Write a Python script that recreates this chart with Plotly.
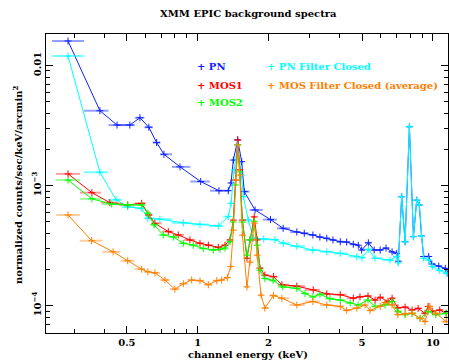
import math
import plotly.graph_objects as go

# ---------------- data (keV, counts/sec/keV/arcmin^2) ----------------
pn_e = [0.281, 0.384, 0.454, 0.515, 0.568, 0.620, 0.669, 0.719, 0.841, 1.03, 1.232, 1.35,
        1.386, 1.418, 1.480, 1.539, 1.578, 1.754, 2.04, 2.31, 2.64, 2.84, 3.09, 3.31, 3.54,
        3.76, 4.04, 4.30, 4.59, 4.82, 4.98, 5.32, 5.63, 5.97, 6.32, 6.71, 7.02, 7.13, 7.37,
        7.62, 7.95, 8.27, 8.54, 8.76, 8.95, 9.14, 9.6, 9.9, 10.6, 11.3, 11.6]
pn_v = [0.0160, 0.00420, 0.00319, 0.00319, 0.00367, 0.00306, 0.00228, 0.00182, 0.00143,
        0.00108, 0.000905, 0.000905, 0.00105, 0.00163, 0.00240, 0.00158, 0.00089, 0.000625,
        0.00052, 0.00044, 0.00041, 0.00040, 0.000387, 0.000372, 0.000363, 0.000352, 0.000340,
        0.000338, 0.000324, 0.000318, 0.000290, 0.000333, 0.000290, 0.000290, 0.000301,
        0.000280, 0.000272, 0.000234, 0.000806, 0.000340, 0.00309, 0.000375, 0.000755,
        0.000688, 0.00038, 0.000256, 0.000256, 0.000222, 0.000213, 0.000204, 0.000186]

pnfc_e = [0.281, 0.384, 0.45, 0.504, 0.578, 0.614, 0.691, 0.869, 1.023, 1.224, 1.35, 1.386,
          1.43, 1.480, 1.535, 1.564, 1.642, 1.724, 1.91, 2.13, 2.31, 2.64, 3.09, 3.54, 4.04,
          4.75, 5.0, 5.32, 5.67, 6.58, 7.02, 7.13, 7.37, 7.62, 7.95, 8.27, 8.54, 8.76, 8.95,
          9.14, 9.6, 9.95, 10.7, 11.4]
pnfc_v = [0.0120, 0.00129, 0.00076, 0.000664, 0.000645, 0.000533, 0.000524, 0.000489,
          0.000474, 0.000460, 0.000551, 0.000710, 0.00135, 0.00218, 0.00122, 0.000808,
          0.000516, 0.000364, 0.000358, 0.000354, 0.000330, 0.000312, 0.000290, 0.000281,
          0.000272, 0.000256, 0.000250, 0.000294, 0.000248, 0.000239, 0.000256, 0.000227,
          0.000806, 0.000340, 0.00309, 0.000375, 0.000755, 0.000688, 0.00038, 0.000248,
          0.000239, 0.000211, 0.000196, 0.000186]

mos1_e = [0.281, 0.355, 0.423, 0.504, 0.578, 0.62, 0.658, 0.75, 0.827, 0.927, 1.023, 1.11,
          1.224, 1.307, 1.372, 1.418, 1.45, 1.48, 1.51, 1.55, 1.62, 1.67, 1.74, 1.79, 1.84,
          1.93, 2.1, 2.28, 2.64, 3.10, 3.54, 4.04, 4.59, 4.90, 5.30, 5.68, 5.97, 6.45, 6.71,
          7.10, 7.62, 8.16, 8.66, 9.26, 9.55, 9.95, 10.7, 11.4]
mos1_v = [0.00125, 0.000872, 0.000720, 0.000689, 0.000711, 0.000568, 0.000484, 0.000413,
          0.000387, 0.000352, 0.000330, 0.000318, 0.000305, 0.000318, 0.000352, 0.000515,
          0.00111, 0.00240, 0.00135, 0.000515, 0.000248, 0.000352, 0.000548, 0.000352,
          0.000205, 0.000179, 0.000174, 0.000149, 0.000145, 0.000135, 0.000125, 0.000123,
          0.000115, 0.000118, 0.000120, 0.000111, 0.000117, 0.000108, 0.000115, 0.0000956,
          0.0000970, 0.0000917, 0.0000946, 0.0000861, 0.0000983, 0.0000893, 0.0000917,
          0.0000861]

mos2_e = [0.281, 0.355, 0.431, 0.504, 0.578, 0.614, 0.652, 0.714, 0.79, 0.869, 0.958, 1.056,
          1.165, 1.244, 1.307, 1.372, 1.418, 1.45, 1.48, 1.51, 1.55, 1.62, 1.67, 1.74, 1.79,
          1.84, 1.93, 2.09, 2.30, 2.64, 2.86, 3.09, 3.31, 3.65, 4.04, 4.45, 4.81, 5.30, 5.68,
          6.26, 6.71, 7.10, 7.62, 8.16, 8.83, 9.55, 10.3, 11.4]
mos2_v = [0.00111, 0.000774, 0.000700, 0.000689, 0.000689, 0.000587, 0.000470, 0.000387,
          0.000372, 0.000330, 0.000318, 0.000299, 0.000290, 0.000294, 0.000301, 0.000340,
          0.000496, 0.00101, 0.00218, 0.00130, 0.000496, 0.000263, 0.000352, 0.000503,
          0.000318, 0.000197, 0.000168, 0.000162, 0.000143, 0.000139, 0.000126, 0.000118,
          0.000124, 0.000114, 0.000111, 0.000105, 0.000101, 0.000111, 0.0000983, 0.000101,
          0.000108, 0.0000893, 0.0000838, 0.0000861, 0.0000783, 0.0000893, 0.0000838,
          0.0000861]

mosfc_e = [0.281, 0.354, 0.437, 0.504, 0.578, 0.614, 0.658, 0.726, 0.80, 0.869, 0.943, 1.023,
           1.11, 1.205, 1.265, 1.337, 1.382, 1.418, 1.45, 1.48, 1.51, 1.55, 1.62, 1.67, 1.74,
           1.79, 1.86, 1.93, 2.10, 2.28, 2.64, 3.09, 3.54, 4.04, 4.30, 4.75, 5.15, 5.41, 5.97,
           6.26, 6.71, 7.10, 7.62, 8.16, 8.83, 9.26, 9.70, 10.3, 11.4]
mosfc_v = [0.000568, 0.000347, 0.000280, 0.000236, 0.000201, 0.000191, 0.000187, 0.000163,
           0.000137, 0.000152, 0.000163, 0.000161, 0.000149, 0.000161, 0.000163, 0.000171,
           0.000211, 0.000425, 0.00111, 0.00218, 0.00122, 0.000386, 0.000143, 0.000230,
           0.000486, 0.000263, 0.000122, 0.0000952, 0.000121, 0.000115, 0.000101, 0.000108,
           0.000101, 0.0000983, 0.0000910, 0.0000952, 0.000101, 0.0000910, 0.0000983,
           0.000106, 0.000101, 0.0000838, 0.0000854, 0.0000861, 0.0000783, 0.0000735,
           0.0000983, 0.0000861, 0.0000735]

series_names = ["PN", "PN Filter Closed", "MOS1", "MOS2", "MOS Filter Closed (average)"]
x_tick_vals = [0.5, 1, 2, 5, 10]
x_tick_text = ["0.5", "1", "2", "5", "10"]
y_tick_vals = [1e-4, 1e-3, 1e-2]
y_tick_text = ["10<sup>\u22124</sup>", "10<sup>\u22123</sup>", "0.01"]

# ---------------- styling ----------------
FONT = "DejaVu Serif"
colors = {"PN": "#1020ff", "PN Filter Closed": "#00ffff", "MOS1": "#ff0000",
          "MOS2": "#00ff00", "MOS Filter Closed (average)": "#ff8000"}
bar_colors = {"PN": "rgba(60,80,255,0.55)", "PN Filter Closed": "rgba(0,255,255,0.55)",
              "MOS1": "rgba(255,60,60,0.5)", "MOS2": "rgba(60,255,60,0.5)",
              "MOS Filter Closed (average)": "rgba(255,150,60,0.5)"}
data = {"PN": (pn_e, pn_v), "PN Filter Closed": (pnfc_e, pnfc_v), "MOS1": (mos1_e, mos1_v),
        "MOS2": (mos2_e, mos2_v), "MOS Filter Closed (average)": (mosfc_e, mosfc_v)}


def bin_widths(e):
    edges = [math.sqrt(e[i] * e[i + 1]) for i in range(len(e) - 1)]
    lo = [e[0] ** 2 / edges[0]] + edges
    hi = edges + [e[-1] ** 2 / edges[-1]]
    return [hi[i] - e[i] for i in range(len(e))], [e[i] - lo[i] for i in range(len(e))]


fig = go.Figure()
for name in series_names:
    e, v = data[name]
    plus, minus = bin_widths(e)
    fig.add_trace(go.Scatter(
        x=e, y=v, mode="lines+markers", name=name, showlegend=False,
        line=dict(color=colors[name], width=1),
        marker=dict(symbol="cross-thin", size=5, line=dict(width=1, color=colors[name]),
                    color=colors[name]),
        error_x=dict(type="data", symmetric=False, array=plus, arrayminus=minus,
                     color=bar_colors[name], thickness=2, width=0),
    ))

minor_x = [m * 10 ** k for k in (-1, 0, 1) for m in range(2, 10)
           if 0.22 < m * 10 ** k < 12 and m * 10 ** k not in (0.5, 2, 5)]
minor_y = [m * 10 ** k for k in (-5, -4, -3, -2) for m in range(2, 10)
           if 5.5e-5 < m * 10 ** k < 0.019]

tick_font = dict(family=FONT, size=10, color="black", weight="bold")
axis_common = dict(showline=True, linecolor="black", linewidth=1, mirror="ticks",
                   ticks="inside", ticklen=7, tickcolor="black", showgrid=False,
                   zeroline=False, tickfont=tick_font)

fig.update_xaxes(type="log", range=[math.log10(0.2265), math.log10(11.6)],
                 tickvals=x_tick_vals, ticktext=x_tick_text,
                 minor=dict(tickvals=minor_x, ticks="inside", ticklen=4, tickcolor="black"),
                 **axis_common)
fig.update_yaxes(type="log", range=[-4.229, -1.7375], tickvals=y_tick_vals,
                 ticktext=y_tick_text, tickangle=-90,
                 minor=dict(tickvals=minor_y, ticks="inside", ticklen=4, tickcolor="black"),
                 **axis_common)

L, R, T, B = 46, 1, 34, 29
W, H = 449, 362
pw, ph = W - L - R, H - T - B


def px(xp):
    return (xp - L) / pw


def py(yp):
    return (H - B - yp) / ph


ann = [
    dict(text="XMM EPIC background spectra", x=px(248), y=py(13)),
    dict(text="channel energy (keV)", x=px(248), y=py(354)),
]
for a in ann:
    fig.add_annotation(text=a["text"], xref="paper", yref="paper", x=a["x"], y=a["y"],
                       xanchor="center", yanchor="middle", showarrow=False,
                       font=dict(family=FONT, size=10, color="black", weight="bold"))
fig.add_annotation(text="normalized counts/sec/keV/arcmin<sup>2</sup>", xref="paper",
                   yref="paper", x=px(17), y=py(185), textangle=-90, showarrow=False,
                   xanchor="center", yanchor="middle",
                   font=dict(family=FONT, size=10, color="black", weight="bold"))

legend_pos = {"PN": (195, 66.7), "MOS1": (195, 85.7), "MOS2": (195, 102.7),
              "PN Filter Closed": (265, 66.7), "MOS Filter Closed (average)": (265, 85.7)}
for name in series_names:
    xp, yp = legend_pos[name]
    fig.add_annotation(text="+ " + name, xref="paper", yref="paper", x=px(xp), y=py(yp),
                       xanchor="left", yanchor="middle", showarrow=False,
                       font=dict(family=FONT, size=10, color=colors[name], weight="bold"))

fig.update_layout(width=W, height=H, margin=dict(l=L, r=R, t=T, b=B),
                  paper_bgcolor="white", plot_bgcolor="white", showlegend=False)
fig.write_html("out.html")
